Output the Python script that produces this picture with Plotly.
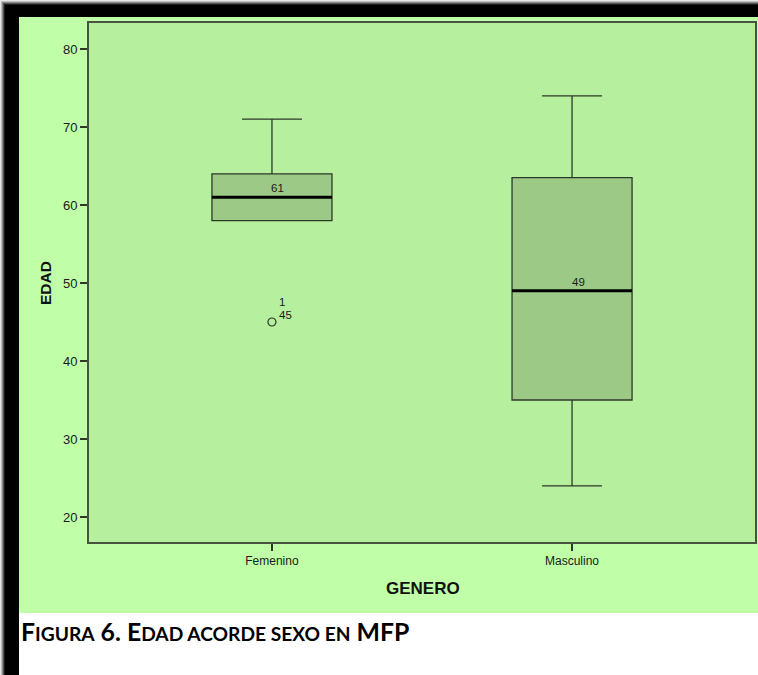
import plotly.graph_objects as go

# Box-plot summary per gender (age in years)
generos = ["Femenino", "Masculino"]
q1 = [58, 35]
mediana = [61, 49]
q3 = [64, 63.5]
bigote_inf = [58, 24]
bigote_sup = [71, 74]

# Outlier (case numbers shown next to it)
atipico_genero = ["Femenino"]
atipico_edad = [45]
atipico_casos = ["1", "45"]

yticks = [20, 30, 40, 50, 60, 70, 80]

W, H = 758, 675


def px(x):
    return x / W


def py(y):
    return 1 - y / H


OUTER_BG = "#c0ffa8"
PLOT_BG = "#b6f09f"
BOX_FILL = "#9cca86"
LINE = "#2e3829"

fig = go.Figure()

fig.add_trace(go.Box(
    x=generos, q1=q1, median=mediana, q3=q3,
    lowerfence=bigote_inf, upperfence=bigote_sup,
    width=0.4, whiskerwidth=0.5,
    fillcolor=BOX_FILL, line=dict(color=LINE, width=1.3),
    boxpoints=False, showlegend=False, hoverinfo="skip",
))

fig.add_trace(go.Scatter(
    x=atipico_genero, y=atipico_edad, mode="markers",
    marker=dict(symbol="circle-open", size=8, color=LINE, line=dict(width=1.2)),
    showlegend=False, hoverinfo="skip",
))

shapes = []
# drop-shadow frame (top and left black bands with soft fade)
for i, c in enumerate(["#e6e6e6", "#bdbdbd", "#8a8a8a", "#505050", "#202020"]):
    shapes.append(dict(type="rect", xref="paper", yref="paper", layer="below",
                       x0=px(i), x1=1, y0=py(17), y1=py(i), fillcolor=c, line_width=0))
    shapes.append(dict(type="rect", xref="paper", yref="paper", layer="below",
                       x0=px(i), x1=px(19), y0=0, y1=py(i), fillcolor=c, line_width=0))
shapes.append(dict(type="rect", xref="paper", yref="paper", layer="below",
                   x0=px(5), x1=1, y0=py(17), y1=py(5), fillcolor="#000000", line_width=0))
shapes.append(dict(type="rect", xref="paper", yref="paper", layer="below",
                   x0=px(5), x1=px(19), y0=0, y1=py(5), fillcolor="#000000", line_width=0))
# chart background
shapes.append(dict(type="rect", xref="paper", yref="paper", layer="below",
                   x0=px(19), x1=1, y0=py(613), y1=py(17), fillcolor=OUTER_BG, line_width=0))
# plot area
shapes.append(dict(type="rect", xref="paper", yref="paper", layer="below",
                   x0=px(88), x1=px(756), y0=py(543), y1=py(22), fillcolor=PLOT_BG,
                   line=dict(color="#45533f", width=2)))
# thick median lines
for i, m in enumerate(mediana):
    shapes.append(dict(type="line", xref="x", yref="y", x0=i - 0.2, x1=i + 0.2,
                       y0=m, y1=m, line=dict(color="#000000", width=3)))

annotations = []
for i, m in enumerate(mediana):
    annotations.append(dict(x=i, y=m, xref="x", yref="y", text=str(m), showarrow=False,
                            xshift=6, yanchor="bottom", yshift=1,
                            font=dict(family="Arial", size=11.5, color="#1a1a1a")))
annotations.append(dict(x=0, y=atipico_edad[0], xref="x", yref="y", text=atipico_casos[0],
                        showarrow=False, xanchor="left", xshift=5, yshift=20,
                        font=dict(family="Arial", size=11.5, color="#1a1a1a")))
annotations.append(dict(x=0, y=atipico_edad[0], xref="x", yref="y", text=atipico_casos[1],
                        showarrow=False, xanchor="left", xshift=5, yshift=7,
                        font=dict(family="Arial", size=11.5, color="#1a1a1a")))
annotations.append(dict(x=px(45), y=py(283), xref="paper", yref="paper", text="<b>EDAD</b>",
                        showarrow=False, textangle=-90, xanchor="center", yanchor="middle",
                        font=dict(family="Arial", size=15.5, color="#111111")))
annotations.append(dict(x=px(423), y=py(588), xref="paper", yref="paper", text="<b>GENERO</b>",
                        showarrow=False, xanchor="center", yanchor="middle",
                        font=dict(family="Arial", size=17, color="#111111")))
sc = "font-size:19.2px"
annotations.append(dict(
    x=px(19), y=py(631), xref="paper", yref="paper", xanchor="left", yanchor="middle",
    showarrow=False,
    text=(f"<b>F<span style='{sc}'>IGURA</span> 6. E<span style='{sc}'>DAD ACORDE SEXO EN</span> MFP</b>"),
    font=dict(family="Lato", size=24.8, color="#000000"),
))

fig.update_layout(
    width=W, height=H,
    margin=dict(l=0, r=0, t=0, b=0),
    paper_bgcolor="#ffffff", plot_bgcolor="rgba(0,0,0,0)",
    shapes=shapes, annotations=annotations,
    xaxis=dict(domain=[px(88), px(756)], type="category", range=[-0.613, 1.613],
               showgrid=False, zeroline=False, showline=False,
               ticks="outside", ticklen=7, tickwidth=1.5, tickcolor=LINE,
               tickfont=dict(family="Arial", size=12, color="#1a1a1a")),
    yaxis=dict(domain=[py(543), py(22)], range=[16.67, 83.46],
               tickvals=yticks, showgrid=False, zeroline=False, showline=False,
               ticks="outside", ticklen=7, tickwidth=2, tickcolor=LINE,
               tickfont=dict(family="Arial", size=13, color="#1a1a1a")),
)

fig.write_html("out.html")
